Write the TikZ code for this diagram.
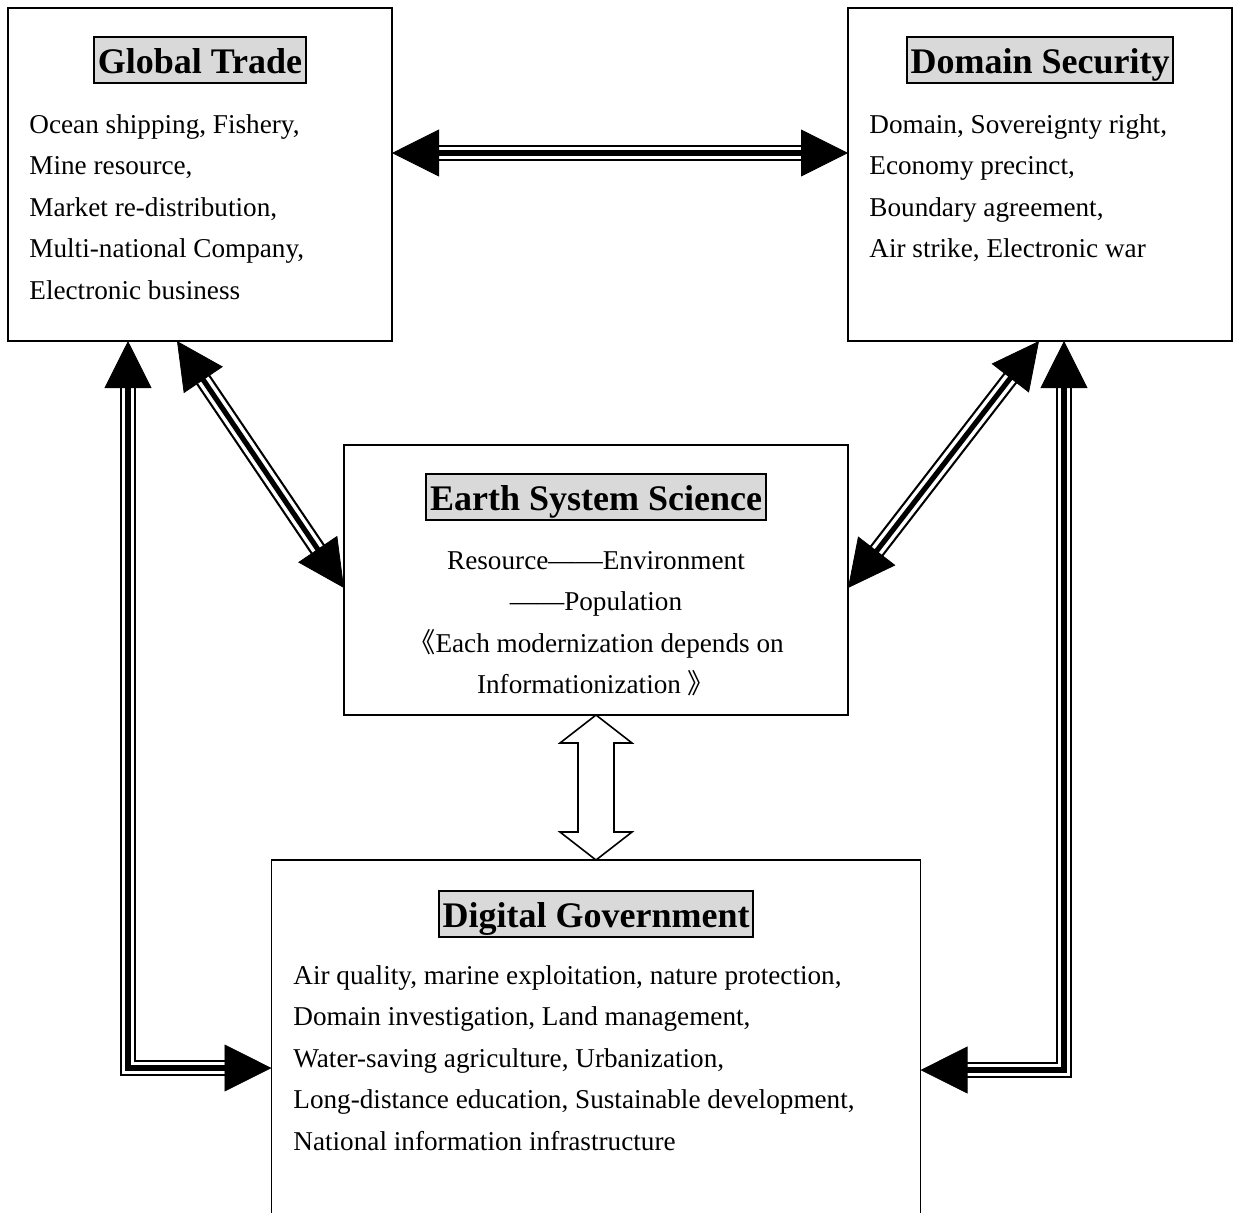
\documentclass[tikz,border=0pt]{standalone}
\usepackage{fontspec}
\setmainfont{Liberation Serif}
\newfontfamily\cjk{Noto Sans CJK SC}
\usepackage{tikz}
\usetikzlibrary{arrows.meta,calc,positioning}

\tikzset{
  box/.style={draw, line width=0.7pt, inner sep=0pt, outer sep=0pt},
  hd/.style={draw, fill=gray!30, line width=1pt, inner xsep=1.8pt, inner ysep=3pt,
    text height=15.2pt, text depth=1.8pt, font=\bfseries\fontsize{18}{22}\selectfont},
  txt/.style={inner sep=0pt, font=\fontsize{13.6}{20.75}\selectfont},
  % three stripes under the two heads
  rail/.style={line width=0.4pt, line join=miter,
    {Triangle[length=23.5pt,width=23.5pt]}-{Triangle[length=23.5pt,width=23.5pt]},
    preaction={draw, -, line width=8.4pt, shorten <=22pt, shorten >=22pt},
    preaction={draw=white, -, line width=6.2pt, shorten <=22pt, shorten >=22pt},
    preaction={draw, -, line width=2.6pt, shorten <=22pt, shorten >=22pt}},
  hollow/.style={draw, fill=white, line width=0.8pt, line join=miter}
}

\begin{document}
\begin{tikzpicture}[x=0.5pt, y=-0.5pt]
  \useasboundingbox (0,0) rectangle (1235,1212);

  % the four boxes
  \node[box, minimum width=192pt, minimum height=166.5pt] (gt) at (200,174.5) {};
  \node[box, minimum width=192pt, minimum height=166.5pt] (ds) at (1040,174.5) {};
  \node[box, minimum width=252pt, minimum height=135pt] (ess) at (596,580) {};
  \node[box, minimum width=324.5pt, minimum height=178pt] (dg) at (596,1038) {};

  % headings
  \node[hd] (gtHd) at (200,60) {Global Trade};
  \node[hd] (dsHd) at (1040,60) {Domain Security};
  \node[hd] (essHd) at (596,497) {Earth System Science};
  \node[hd] (dgHd) at (596,914) {Digital Government};

  % contents
  \node[txt, align=left, anchor=north west] (gtTxt) at (29,114) {Ocean shipping, Fishery,\\ Mine resource,\\ Market re-distribution,\\ Multi-national Company,\\ Electronic business};
  \node[txt, align=left, anchor=north west] (dsTxt) at (869,114) {Domain, Sovereignty right,\\ Economy precinct,\\ Boundary agreement,\\ Air strike, Electronic war};
  \node[txt, align=center, anchor=north] (essTxt) at (596,551) {Resource——Environment\\ ——Population\hspace{4pt}\\ {\cjk 《}Each modernization depends on\\ Informationization {\cjk 》}};
  \node[txt, align=left, anchor=north west] (dgTxt) at (293,965) {Air quality, marine exploitation, nature protection,\\ Domain investigation, Land management,\\ Water-saving agriculture, Urbanization,\\ Long-distance education, Sustainable development,\\ National information infrastructure};

  % links
  \draw[rail] ($(gt.north east)+(0,145)$) -- ($(ds.north west)+(0,145)$);
  \draw[rail] ($(gt.south west)+(169,0)$) -- ($(ess.north west)+(0,143)$);
  \draw[rail] ($(ds.south west)+(191,0)$) -- ($(ess.north east)+(0,143)$);
  \draw[rail] ($(gt.south west)+(120,0)$) |- ($(dg.north west)+(0,208)$);
  \draw[rail] ($(ds.south west)+(216,0)$) |- ($(dg.north east)+(0,210)$);

  \draw[hollow] (ess.south) -- ++(36,28) -- ++(-18,0) -- ++(0,89) -- ++(18,0)
    -- (dg.north) -- ++(-36,-28) -- ++(18,0) -- ++(0,-89) -- ++(-18,0) -- cycle;
\end{tikzpicture}
\end{document}
